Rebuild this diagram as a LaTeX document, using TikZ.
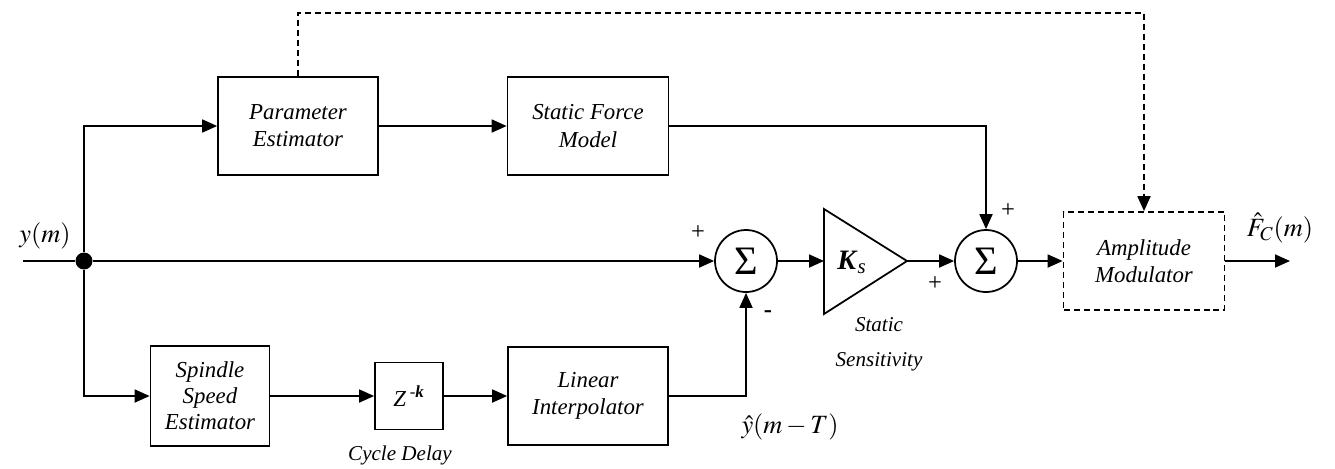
\documentclass[tikz,border=0pt]{standalone}
\usepackage{mathptmx}
\usepackage{fontspec}
\setmainfont{Liberation Serif}
\usetikzlibrary{arrows.meta, positioning}

\begin{document}
\begin{tikzpicture}[x=0.02cm, y=-0.02cm, line width=1pt,
    blk/.style={draw, line width=1pt, minimum width=3.2cm, minimum height=1.96cm,
                align=center, inner sep=1pt, font=\fontsize{13}{15.5}\selectfont\itshape},
    sumnode/.style={circle, draw, line width=1pt, minimum size=1.24cm, inner sep=0pt,
                font=\fontsize{23}{23}\selectfont},
    sig/.style={-{Triangle[length=0.3cm, width=0.26cm]}},
    fb/.style={dash pattern=on 0.12cm off 0.08cm},
    sgn/.style={font=\fontsize{14}{14}\selectfont, inner sep=0pt},
    lbl/.style={font=\fontsize{12}{20}\selectfont\itshape, align=center, inner sep=0pt}
  ]
  \useasboundingbox (0,0) rectangle (1335,468);

  % blocks
  \node[blk] (pe) at (298,126) {Parameter\\Estimator};
  \node[blk, minimum width=3.22cm] (sfm) at (588,126) {Static Force\\Model};
  \node[blk, minimum width=2.38cm, minimum height=2cm, font=\fontsize{13}{14.7}\selectfont\itshape]
       (sse) at (210,396) {Spindle\\Speed\\Estimator};
  \node[blk, minimum width=1.36cm, minimum height=1.34cm] (zk) at (409,396)
       {\textit{Z}\,\textsuperscript{-\textbf{\textit{k}}}};
  \node[blk] (li) at (588,396) {Linear\\Interpolator};
  \node[blk, fb, minimum width=3.22cm] (am) at (1144,261) {Amplitude\\Modulator};
  \node[sumnode] (s1) at (746,261) {Σ};
  \node[sumnode] (s2) at (986,261) {Σ};
  \node[circle, fill, inner sep=0pt, minimum size=0.34cm] (jn) at (84,261) {};

  % gain
  \draw[line join=miter] (824,209) -- (907,261) -- (824,314) -- cycle;
  \node[font=\fontsize{16}{16}\selectfont, inner sep=0pt] (ks) at (852,262)
       {\textbf{\textit{K}}\textsubscript{\textit{s}}};

  \coordinate (yin) at (23,261);
  \coordinate (gin) at (824,261);
  \coordinate (gout) at (907,261);
  \coordinate (fout) at (1290,261);
  \coordinate (dtop) at (1144,13);

  % signals
  \draw (yin) -- (jn);
  \draw[sig] (jn) -- (s1);
  \draw[sig] (jn) |- (pe);
  \draw[sig] (jn) |- (sse);
  \draw[sig] (pe) -- (sfm);
  \draw[sig] (sfm) -| (s2);
  \draw[sig] (sse) -- (zk);
  \draw[sig] (zk) -- (li);
  \draw[sig] (li) -| (s1);
  \draw[sig] (s1) -- (gin);
  \draw[sig] (gout) -- (s2);
  \draw[sig] (s2) -- (am);
  \draw[sig] (am) -- (fout);
  \draw[sig, fb] (pe) |- (dtop) -- (am);

  % labels
  \node[font=\fontsize{15}{15}\selectfont] (ylbl) at (45,236) {$y(m)$};
  \node[font=\fontsize{15}{15}\selectfont] (yhat) at (790,427) {$\hat{y}(m-T)$};
  \node[font=\fontsize{15}{15}\selectfont] (fc) at (1280,228) {$\hat{F}_C(m)$};
  \node[lbl] (cd) at (400,455) {Cycle Delay};
  \node[lbl] (ss) at (879,344) {Static\\Sensitivity};
  \node[sgn] (p1) at (698,233) {+};
  \node[sgn] (m1) at (768,314) {\textbf{-}};
  \node[sgn] (p2) at (935,284) {+};
  \node[sgn] (p3) at (1008,211) {+};
\end{tikzpicture}
\end{document}
